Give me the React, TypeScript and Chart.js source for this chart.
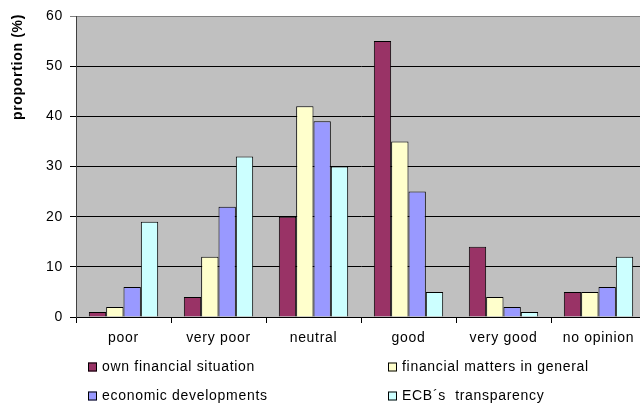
import React, { useEffect, useRef } from "react";
import { Chart, registerables } from "chart.js";

Chart.register(...registerables);

const categories = ["poor", "very poor", "neutral", "good", "very good", "no opinion"];
const ownFinancial = [1, 4, 20, 55, 14, 5];
const financialMatters = [2, 12, 42, 35, 4, 5];
const economicDev = [6, 22, 39, 25, 2, 6];
const ecbTransparency = [19, 32, 30, 5, 1, 12];
const seriesNames = [
  "own financial situation",
  "financial matters in general",
  "economic developments",
  "ECB\u00b4s  transparency",
];
const seriesColors = ["#993366", "#FFFFCC", "#9999FF", "#CCFFFF"];
const yTicks = [0, 10, 20, 30, 40, 50, 60];
const yTitle = "proportion (%)";

const FONT = "Arial, 'Liberation Sans', sans-serif";
const SPACING = "0.7px";

export default function App() {
  const ref = useRef<HTMLCanvasElement | null>(null);

  useEffect(() => {
    if (!ref.current) return;
    const values = [ownFinancial, financialMatters, economicDev, ecbTransparency];

    const bgPlugin = {
      id: "bg",
      beforeInit(chart: any) {
        (chart.ctx as any).letterSpacing = SPACING;
      },
      beforeDraw(chart: any) {
        const { ctx, chartArea } = chart;
        (ctx as any).letterSpacing = SPACING;
        ctx.save();
        ctx.fillStyle = "#C0C0C0";
        ctx.fillRect(chartArea.left, chartArea.top, chartArea.right - chartArea.left, chartArea.bottom - chartArea.top);
        ctx.strokeStyle = "#808080";
        ctx.lineWidth = 1;
        ctx.strokeRect(chartArea.left + 0.5, chartArea.top + 0.5, chartArea.right - chartArea.left, chartArea.bottom - chartArea.top);
        ctx.restore();
      },
      afterDraw(chart: any) {
        const { ctx } = chart;
        ctx.save();
        (ctx as any).letterSpacing = SPACING;
        ctx.font = `bold 14px ${FONT}`;
        ctx.fillStyle = "#000";
        ctx.textAlign = "center";
        ctx.textBaseline = "middle";
        ctx.translate(18, 67);
        ctx.rotate(-Math.PI / 2);
        ctx.fillText(yTitle, 0, 0);
        ctx.restore();

        ctx.save();
        (ctx as any).letterSpacing = SPACING;
        ctx.font = `14px ${FONT}`;
        ctx.textBaseline = "middle";
        ctx.textAlign = "left";
        const colX = [88, 388];
        const rowY = [367, 396];
        chart.data.datasets.forEach((ds: any, i: number) => {
          const x = colX[i % 2];
          const y = rowY[Math.floor(i / 2)];
          ctx.fillStyle = ds.backgroundColor;
          ctx.fillRect(x, y - 4.5, 9, 9);
          ctx.strokeStyle = "#000";
          ctx.lineWidth = 1;
          ctx.strokeRect(x + 0.5, y - 4, 8, 8);
          ctx.fillStyle = "#000";
          ctx.fillText(ds.label, x + 14, y);
        });
        ctx.restore();
      },
    };

    const chart = new Chart(ref.current, {
      type: "bar",
      data: {
        labels: categories,
        datasets: values.map((v, i) => ({
          label: seriesNames[i],
          data: v,
          backgroundColor: seriesColors[i],
          borderColor: "#000",
          borderWidth: 1,
          categoryPercentage: 0.73,
          barPercentage: 1,
        })),
      },
      options: {
        responsive: false,
        animation: false,
        layout: { padding: { top: 16, left: 0, right: 0, bottom: 0 } },
        plugins: { legend: { display: false }, tooltip: { enabled: false } },
        scales: {
          x: {
            afterFit(scale: any) {
              scale.height = 86;
            },
            grid: {
              offset: true,
              drawOnChartArea: false,
              drawTicks: true,
              tickLength: 6,
              color: "#000",
            },
            border: { color: "#000", width: 1 },
            ticks: {
              color: "#000",
              font: { family: FONT, size: 14 },
              padding: 7,
              maxRotation: 0,
              autoSkip: false,
            },
          },
          y: {
            min: 0,
            max: 60,
            afterFit(scale: any) {
              scale.width = 76;
            },
            afterBuildTicks(scale: any) {
              scale.ticks = yTicks.map((v) => ({ value: v }));
            },
            grid: {
              color: (c: any) => (c.tick && c.tick.value === 60 ? "#808080" : "#000"),
              tickLength: 6,
              lineWidth: 1,
            },
            border: { color: "#404040", width: 1 },
            ticks: {
              color: "#000",
              font: { family: FONT, size: 14 },
              padding: 7,
            },
          },
        },
      },
      plugins: [bgPlugin],
    } as any);

    return () => chart.destroy();
  }, []);

  return (
    <div style={{ position: "fixed", left: 0, top: 0, width: 640, height: 403, overflow: "hidden", background: "#fff" }}>
      <canvas ref={ref} width={646} height={403} style={{ display: "block", width: 646, height: 403 }} />
    </div>
  );
}
